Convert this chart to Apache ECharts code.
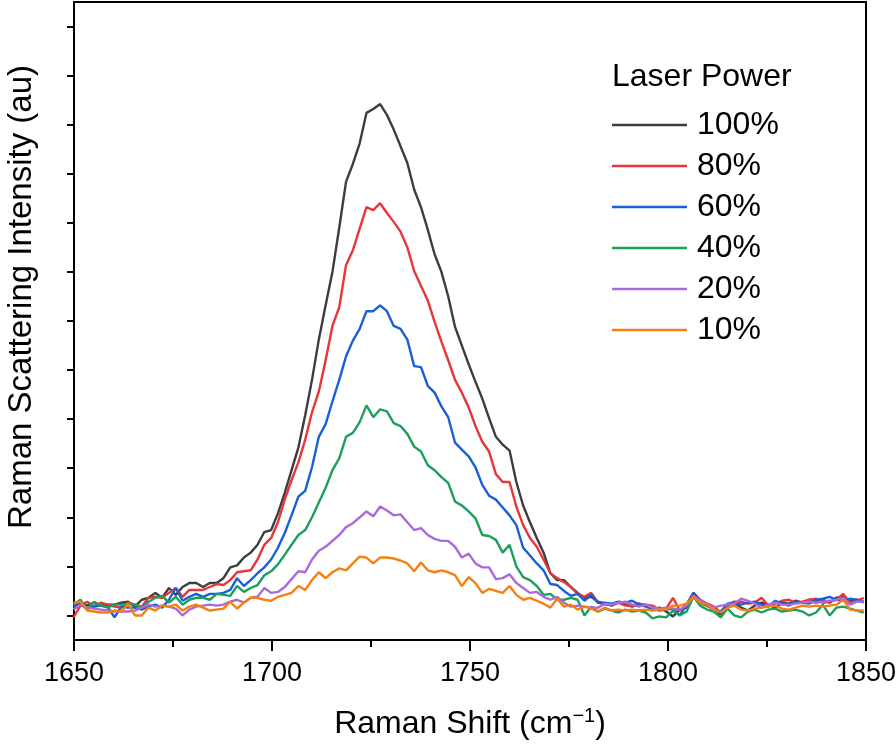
<!DOCTYPE html>
<html>
<head>
<meta charset="utf-8">
<script src="https://cdn.jsdelivr.net/npm/echarts@6/dist/echarts.min.js"></script>
<style>
html,body{margin:0;padding:0;background:#fff;}
#chart{width:896px;height:746px;}
</style>
</head>
<body>
<div id="chart"></div>
<script>
const ramanShift = [1649.9,1651.62,1653.34,1655.06,1656.78,1658.5,1660.22,1661.94,1663.66,1665.38,
1667.1,1668.82,1670.54,1672.26,1673.98,1675.7,1677.42,1679.14,1680.86,1682.58,
1684.3,1686.02,1687.74,1689.46,1691.18,1692.9,1694.62,1696.34,1698.06,1699.78,
1701.5,1703.22,1704.94,1706.66,1708.38,1710.1,1711.82,1713.54,1715.26,1716.98,
1718.7,1720.42,1722.14,1723.86,1725.58,1727.3,1729.02,1730.74,1732.46,1734.18,
1735.9,1737.62,1739.34,1741.06,1742.78,1744.5,1746.22,1747.94,1749.66,1751.38,
1753.1,1754.82,1756.54,1758.26,1759.98,1761.7,1763.42,1765.14,1766.86,1768.58,
1770.3,1772.02,1773.74,1775.46,1777.18,1778.9,1780.62,1782.34,1784.06,1785.78,
1787.5,1789.22,1790.94,1792.66,1794.38,1796.1,1797.82,1799.54,1801.26,1802.98,
1804.7,1806.42,1808.14,1809.86,1811.58,1813.3,1815.02,1816.74,1818.46,1820.18,
1821.9,1823.62,1825.34,1827.06,1828.78,1830.5,1832.22,1833.94,1835.66,1837.38,
1839.1,1840.82,1842.54,1844.26,1845.98,1847.7,1849.42];

const power100 = [35,37,35,38,35,36,36,38,39,34,
41,43,48,43,53,46,54,58,58,54,
58,58,63,74,76,84,89,97,110,112,
129,150,173,196,229,265,306,341,375,420,
467,485,506,537,541,546,535,520,503,486,
459,441,418,393,375,350,319,300,281,263,
246,226,207,199,193,161,137,120,104,89,
68,61,61,54,48,43,44,39,37,35,
38,36,34,37,35,31,33,29,24,31,
33,45,38,35,31,26,35,38,33,30,
35,38,36,33,38,37,40,38,41,39,
41,38,43,44,40,41,39];

const power80 = [23,35,39,34,38,36,34,33,38,36,
34,43,44,43,48,53,44,51,51,51,
54,57,56,61,69,70,71,82,97,104,
120,143,163,181,204,232,253,285,320,339,
382,397,419,441,438,445,435,426,416,400,
376,361,346,324,304,285,265,252,237,218,
202,192,169,161,161,136,117,104,95,82,
68,63,59,54,47,44,48,38,36,36,
38,35,35,37,36,35,31,32,43,30,
36,48,41,37,34,28,36,39,39,37,
38,43,35,37,40,41,38,39,41,42,
38,39,41,47,38,40,43];

const power60 = [33,36,32,34,35,34,23,34,33,33,
31,34,36,33,41,53,40,44,47,44,
47,47,48,51,63,55,61,68,74,82,
94,109,127,146,152,176,207,220,243,265,
289,305,317,335,335,341,335,320,317,306,
279,278,259,252,238,227,201,194,187,176,
158,147,143,135,127,117,94,86,78,71,
57,56,50,45,47,40,46,38,38,37,
39,38,40,36,34,32,30,31,32,25,
36,48,40,36,31,29,37,38,36,38,
39,36,34,40,37,35,39,38,37,41,
42,44,41,40,42,41,38];

const power40 = [36,41,31,39,35,33,36,36,37,36,
33,39,43,45,38,44,36,41,43,43,
41,47,46,45,55,49,53,56,66,70,
77,87,97,107,112,125,140,155,173,185,
207,211,222,239,227,235,233,221,218,210,
197,192,178,173,166,160,141,137,131,124,
107,106,102,89,97,75,64,61,55,46,
47,41,41,43,41,25,34,29,32,30,
28,31,29,30,28,22,24,23,30,25,
29,44,35,31,29,23,32,25,23,29,
31,28,31,32,29,30,31,29,25,28,
36,25,33,34,32,30,28];

const power20 = [31,36,33,32,31,30,29,29,29,30,
33,36,34,35,34,32,25,31,34,35,
36,35,36,39,41,38,43,44,53,48,
49,54,62,70,69,82,91,95,101,107,
115,119,125,131,126,136,132,127,128,120,
112,114,107,103,101,101,95,84,88,78,
74,74,62,63,67,58,53,48,49,44,
41,44,38,34,35,34,33,33,37,36,
38,39,36,34,36,33,32,33,32,31,
35,45,40,36,33,35,36,37,42,40,
37,33,36,38,36,36,37,38,39,38,
39,40,41,43,36,39,39];

const power10 = [38,39,30,29,28,28,30,29,37,25,
25,33,30,35,34,36,30,34,36,33,
30,31,32,39,32,38,43,43,41,40,
44,46,48,55,51,61,69,63,69,73,
71,78,85,84,78,84,84,83,81,78,
70,79,71,69,71,69,66,55,64,58,
48,52,50,48,55,46,41,43,40,37,
33,42,34,36,31,34,32,29,33,30,
31,30,31,30,31,30,31,31,35,35,
37,44,38,36,31,28,33,35,31,30,
32,33,34,35,32,31,33,35,34,35,
34,35,36,41,31,30,30];

const seriesNames = ['100%','80%','60%','40%','20%','10%'];
const seriesValues = [power100, power80, power60, power40, power20, power10];
const seriesColors = ['#3d3d3d','#e8353b','#1660d8','#1e9e5b','#a96bdc','#f77f10'];

const FONT = '"Liberation Sans", Arial, sans-serif';

const chart = echarts.init(document.getElementById('chart'), null, {renderer:'canvas'});

const series = seriesNames.map((name, k) => ({
  name: name,
  type: 'line',
  showSymbol: false,
  symbol: 'none',
  clip: true,
  lineStyle: {color: seriesColors[k], width: 2.4},
  itemStyle: {color: seriesColors[k]},
  data: ramanShift.map((x, i) => [x, seriesValues[k][i]])
}));

chart.setOption({
  animation: false,
  backgroundColor: '#fff',
  grid: {left: 74, right: 30, top: 2, bottom: 106, show: true, borderColor: '#000', borderWidth: 2,
         backgroundColor: 'transparent', containLabel: false, outerBoundsMode: 'none'},
  title: {
    text: 'Laser Power', left: 607, top: 56,
    textStyle: {fontFamily: FONT, fontSize: 32, fontWeight: 'normal', color: '#000'}
  },
  legend: {
    orient: 'vertical', left: 612, top: 109, padding: 0,
    icon: 'rect', itemWidth: 75, itemHeight: 2.5, itemGap: 9,
    textStyle: {fontFamily: FONT, fontSize: 32, color: '#000', lineHeight: 32, padding: [0,0,0,5]},
    data: seriesNames
  },
  xAxis: {
    type: 'value', min: 1650, max: 1850, interval: 50,
    axisLine: {lineStyle: {color: '#000', width: 2}},
    axisTick: {show: true, length: 11, lineStyle: {color: '#000', width: 2}},
    minorTick: {show: true, splitNumber: 2, length: 7, lineStyle: {color: '#000', width: 2}},
    splitLine: {show: false},
    axisLabel: {fontFamily: FONT, fontSize: 27, color: '#000', margin: 20,
                formatter: function (v) { return String(v); }},
    name: 'Raman Shift (cm{sup|\u22121})',
    nameLocation: 'middle', nameGap: 66,
    nameTextStyle: {
      fontFamily: FONT, fontSize: 32, color: '#000',
      rich: {sup: {fontFamily: FONT, fontSize: 20, color: '#000', padding: [0,0,16,0]}}
    }
  },
  yAxis: {
    type: 'value', min: 0, max: 650, interval: 50,
    axisLine: {show: true, lineStyle: {color: '#000', width: 2}},
    axisTick: {show: false},
    minorTick: {show: true, splitNumber: 2, length: 7, lineStyle: {color: '#000', width: 2}},
    splitLine: {show: false},
    axisLabel: {show: false}
  },
  graphic: [{
    type: 'text', x: 22, y: 297, rotation: Math.PI / 2,
    style: {
      text: 'Raman Scattering Intensity (au)',
      font: '33px "Liberation Sans", Arial, sans-serif',
      fill: '#000', textAlign: 'center', textVerticalAlign: 'middle'
    }
  }],
  series: series
});
</script>
</body>
</html>
